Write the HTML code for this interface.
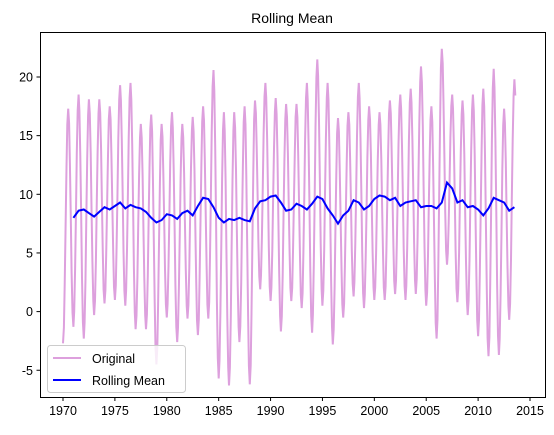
<!DOCTYPE html>
<html><head><meta charset="utf-8"><style>
body{margin:0;background:#fff;}
svg{display:block;font-family:"Liberation Sans","DejaVu Sans",sans-serif;}
</style></head><body>
<svg id="chart" width="554" height="435" viewBox="0 0 554 435">
<rect width="554" height="435" fill="#fff"/>
<text x="292" y="23" font-size="14" text-anchor="middle">Rolling Mean</text>
<g id="grid"></g>
<g id="series"></g>
<rect x="40.5" y="32.5" width="505" height="365" fill="none" stroke="#000" stroke-width="1"/>
<g id="ticks"></g>
<g>
<rect x="47.5" y="345.5" width="138" height="47" rx="3" fill="#fff" fill-opacity="0.8" stroke="#ccc"/>
<line x1="53" y1="358" x2="81" y2="358" stroke="#dda0dd" stroke-width="2"/>
<text x="92" y="363" font-size="12.5">Original</text>
<line x1="53" y1="380" x2="81" y2="380" stroke="#0000ff" stroke-width="2"/>
<text x="92" y="385" font-size="12.5">Rolling Mean</text>
</g>
</svg>
<script>
const years = [1970,1971,1972,1973,1974,1975,1976,1977,1978,1979,1980,1981,1982,1983,1984,1985,1986,1987,1988,1989,1990,1991,1992,1993,1994,1995,1996,1997,1998,1999,2000,2001,2002,2003,2004,2005,2006,2007,2008,2009,2010,2011,2012,2013];
const yearPeaks = [17.3,18.5,18.1,18.1,17.5,19.3,19.5,16.0,16.8,16.0,17.0,16.0,16.6,17.5,20.6,17.0,17.0,17.5,18.0,19.5,18.2,17.7,17.7,19.5,21.5,19.5,16.5,17.0,19.5,17.5,17.0,18.0,18.5,19.0,20.9,17.5,22.4,18.5,18.0,18.5,19.0,20.7,17.3,19.8];
const yearTroughs = [-2.7,-1.3,-2.3,-0.3,0.7,1.0,0.5,-1.5,-1.5,-4.5,-0.5,-2.6,-0.6,-2.0,-0.6,-5.7,-6.3,-2.6,-6.2,1.9,0.9,-1.7,0.9,0.3,-1.8,0.5,-2.8,-0.5,1.3,0.3,1.0,1.0,1.5,1.0,1.5,0.5,-2.3,4.0,0.8,-0.3,-2.1,-3.8,-3.7,-0.7];
const rollStart = 1971.0;
const rollStep = 0.5;
const rollingMean = [8.0,8.6,8.7,8.4,8.1,8.5,8.9,8.7,9.0,9.3,8.8,9.1,8.9,8.8,8.5,8.0,7.6,7.8,8.3,8.2,7.9,8.4,8.6,8.2,9.0,9.7,9.6,8.9,8.0,7.6,7.9,7.8,8.0,7.8,7.7,8.8,9.4,9.5,9.8,9.9,9.3,8.6,8.7,9.2,9.0,8.7,9.2,9.8,9.6,8.8,8.2,7.5,8.2,8.6,9.5,9.3,8.7,9.0,9.6,9.9,9.8,9.5,9.7,9.0,9.3,9.4,9.5,8.9,9.0,9.0,8.8,9.3,11.0,10.5,9.3,9.5,8.9,9.0,8.7,8.2,8.8,9.7,9.5,9.3,8.6,8.9];
const xTicks = [1970,1975,1980,1985,1990,1995,2000,2005,2010,2015];
const yTicks = [-5,0,5,10,15,20];

const NS="http://www.w3.org/2000/svg";
function X(t){return 63+(t-1970)*(530-63)/45;}
function Y(v){return 311.6-v*(311.6-77)/20;}
const tk=document.getElementById('ticks');
xTicks.forEach(t=>{
 const l=document.createElementNS(NS,'line');
 l.setAttribute('x1',X(t));l.setAttribute('x2',X(t));l.setAttribute('y1',397.5);l.setAttribute('y2',401);l.setAttribute('stroke','#000');
 
 
 tk.appendChild(l);
 const tx=document.createElementNS(NS,'text');
 tx.setAttribute('x',X(t));tx.setAttribute('y',415);tx.setAttribute('font-size','12.5');tx.setAttribute('text-anchor','middle');tx.textContent=t;
 
 
 tk.appendChild(tx);
});
yTicks.forEach(v=>{
 const l=document.createElementNS(NS,'line');
 l.setAttribute('x1',36.5);l.setAttribute('x2',40.5);l.setAttribute('y1',Y(v));l.setAttribute('y2',Y(v));l.setAttribute('stroke','#000');
 
 
 tk.appendChild(l);
 const tx=document.createElementNS(NS,'text');
 tx.setAttribute('x',33);tx.setAttribute('y',Y(v)+4.5);tx.setAttribute('font-size','12.5');tx.setAttribute('text-anchor','end');tx.textContent=v;
 
 
 tk.appendChild(tx);
});
const pts=[];
years.forEach((yr,i)=>{
 const months = (yr===2013)?8:12;
 for(let m=0;m<months;m++){
  let v;
  if(m<=6){const f=(1-Math.cos(Math.PI*m/6))/2;v=yearTroughs[i]+(yearPeaks[i]-yearTroughs[i])*f;}
  else{const nt=(i+1<yearTroughs.length)?yearTroughs[i+1]:yearTroughs[i];const f=(1-Math.cos(Math.PI*(m-6)/6))/2;v=yearPeaks[i]+(nt-yearPeaks[i])*f;}
  pts.push(X(yr+m/12).toFixed(1)+','+Y(v).toFixed(1));
 }
});
const sg=document.getElementById('series');
const p1=document.createElementNS(NS,'polyline');
p1.setAttribute('points',pts.join(' '));p1.setAttribute('fill','none');p1.setAttribute('stroke','#dda0dd');p1.setAttribute('stroke-width','2');


sg.appendChild(p1);
const rp=rollingMean.map((v,i)=>X(rollStart+i*rollStep).toFixed(1)+','+Y(v).toFixed(1));
const p2=document.createElementNS(NS,'polyline');
p2.setAttribute('points',rp.join(' '));p2.setAttribute('fill','none');p2.setAttribute('stroke','#0000ff');p2.setAttribute('stroke-width','2');


sg.appendChild(p2);
</script>
</body></html>
